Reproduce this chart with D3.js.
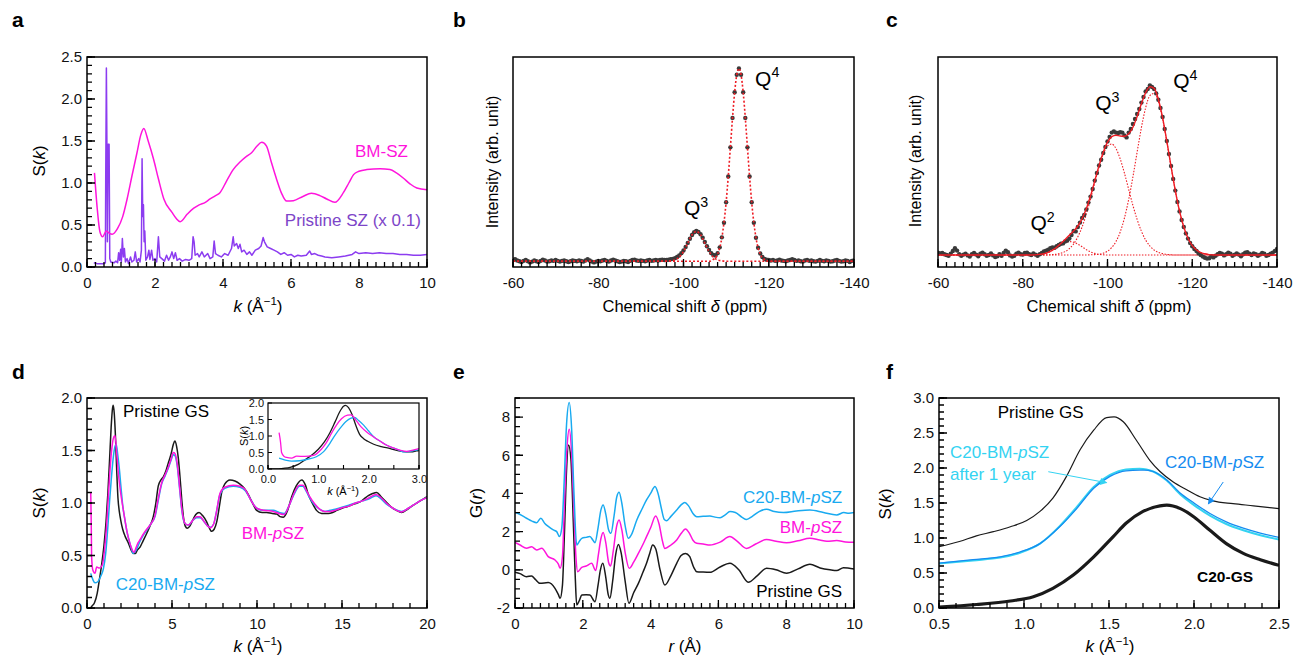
<!DOCTYPE html>
<html>
<head>
<meta charset="utf-8">
<script src="https://cdn.jsdelivr.net/npm/d3@7"></script>
<style>
  body { margin: 0; background: #fff; }
  svg { font-family: Arial, "Liberation Sans", sans-serif; }
</style>
</head>
<body>
<script>
var svg = d3.select("body").append("svg").attr("width", 1293).attr("height", 658);
svg.append("rect").attr("width", 1293).attr("height", 658).attr("fill", "#fff");

// ---------------- data ----------------
// a: S(k) of BM-SZ and pristine SZ (scaled x0.1)
var bmSZ = [[0.22,1.12],[0.3,0.7],[0.38,0.42],[0.46,0.36],[0.57,0.43],[0.66,0.40],[0.74,0.39],[0.9,0.46],[1.05,0.6],[1.18,0.81],[1.32,1.08],[1.47,1.36],[1.58,1.57],[1.67,1.65],[1.8,1.5],[1.96,1.28],[2.1,1.05],[2.26,0.81],[2.5,0.65],[2.62,0.58],[2.74,0.54],[2.95,0.63],[3.14,0.70],[3.3,0.74],[3.48,0.77],[3.62,0.81],[3.78,0.85],[3.91,0.885],[4.1,1.02],[4.3,1.16],[4.5,1.25],[4.7,1.32],[4.84,1.36],[5.0,1.44],[5.14,1.485],[5.28,1.44],[5.42,1.25],[5.58,1.04],[5.72,0.88],[5.87,0.785],[6.07,0.79],[6.35,0.84],[6.6,0.877],[6.85,0.85],[7.05,0.81],[7.29,0.77],[7.54,0.885],[7.7,1.0],[7.84,1.10],[8.0,1.14],[8.23,1.16],[8.62,1.17],[8.91,1.16],[9.1,1.12],[9.3,1.06],[9.5,0.99],[9.7,0.94],[10,0.92]];
var pristineSZ = [[0.2,0.05],[0.3,0.04],[0.4,0.04],[0.5,0.04],[0.54,0.05],[0.55,1.0],[0.57,2.37],[0.59,1.2],[0.6,0.3],[0.62,1.46],[0.65,1.46],[0.67,0.1],[0.7,0.06],[0.8,0.05],[0.85,0.07],[0.9,0.05],[0.93,0.17],[0.96,0.08],[0.99,0.21],[1.01,0.06],[1.04,0.34],[1.07,0.12],[1.1,0.22],[1.13,0.06],[1.18,0.1],[1.22,0.04],[1.28,0.12],[1.32,0.06],[1.38,0.08],[1.42,0.18],[1.46,0.06],[1.52,0.1],[1.56,0.06],[1.6,0.2],[1.62,1.29],[1.64,0.6],[1.66,0.74],[1.68,0.3],[1.7,0.43],[1.73,0.08],[1.78,0.12],[1.82,0.2],[1.85,0.09],[1.9,0.2],[1.94,0.08],[2.0,0.1],[2.05,0.06],[2.1,0.36],[2.14,0.12],[2.2,0.1],[2.28,0.07],[2.34,0.14],[2.4,0.08],[2.45,0.12],[2.5,0.18],[2.55,0.1],[2.6,0.17],[2.65,0.08],[2.72,0.1],[2.8,0.07],[2.9,0.09],[3.0,0.08],[3.08,0.1],[3.12,0.36],[3.15,0.3],[3.18,0.14],[3.25,0.16],[3.3,0.12],[3.38,0.18],[3.45,0.12],[3.55,0.16],[3.62,0.1],[3.7,0.12],[3.74,0.31],[3.78,0.16],[3.85,0.14],[3.95,0.12],[4.05,0.16],[4.15,0.14],[4.25,0.22],[4.3,0.36],[4.33,0.25],[4.4,0.28],[4.45,0.22],[4.5,0.27],[4.55,0.18],[4.62,0.2],[4.7,0.15],[4.78,0.18],[4.85,0.14],[4.95,0.2],[5.05,0.22],[5.12,0.25],[5.18,0.35],[5.22,0.3],[5.3,0.24],[5.4,0.22],[5.5,0.2],[5.6,0.18],[5.7,0.15],[5.8,0.17],[5.9,0.14],[6.0,0.15],[6.1,0.12],[6.2,0.14],[6.3,0.13],[6.45,0.14],[6.55,0.19],[6.6,0.15],[6.7,0.16],[6.8,0.14],[6.9,0.13],[7.0,0.12],[7.2,0.11],[7.4,0.12],[7.6,0.13],[7.8,0.15],[7.9,0.18],[8.0,0.16],[8.2,0.17],[8.4,0.16],[8.6,0.17],[8.8,0.16],[9.0,0.16],[9.2,0.15],[9.4,0.15],[9.6,0.14],[9.8,0.14],[10,0.15]];

// b, c: 29Si NMR, intensities on a 0.5 ppm grid from -60 to -140 ppm
var shiftGrid = d3.range(161).map(function (i) { return -60 - 0.5 * i; });
var nmrB = [
  0.006,0.010,0.004,0.000,-0.004,0.002,0.006,0.000,-0.006,-0.002,0.004,0.000,-0.004,0.002,0.008,0.004,-0.002,0.000,0.004,0.002,
  0.006,0.002,-0.002,0.002,0.004,0.000,-0.004,0.000,0.004,0.002,0.000,0.004,0.002,-0.002,0.004,0.010,0.004,-0.002,-0.006,-0.002,
  0.002,0.000,0.004,0.006,0.002,-0.002,0.004,0.008,0.004,0.000,-0.004,-0.002,0.002,0.000,-0.004,0.002,0.006,0.008,0.004,0.002,
  0.004,0.002,0.000,0.004,0.006,0.002,0.004,0.006,0.004,0.006,0.008,0.006,0.006,0.008,0.010,0.012,0.016,0.022,0.030,0.042,
  0.056,0.074,0.095,0.117,0.136,0.150,0.157,0.152,0.140,0.122,0.100,0.078,0.058,0.042,0.032,0.030,0.042,0.072,0.124,0.200,
  0.306,0.440,0.591,0.744,0.877,0.968,1.000,0.968,0.877,0.744,0.591,0.440,0.306,0.200,0.122,0.070,0.040,0.022,0.012,0.008,
  0.006,0.004,0.006,0.002,0.004,0.008,0.004,0.002,0.000,0.004,0.006,0.010,0.006,0.002,0.004,0.000,-0.002,0.004,0.006,0.002,
  0.004,0.000,-0.002,0.002,0.006,0.002,0.000,0.004,0.002,-0.002,0.000,0.004,0.006,0.002,-0.002,0.000,0.004,0.002,-0.004,0.002,
  0.004];
var fitQ3B = [[-60,0],[-96,0],[-97,0.002],[-98,0.007],[-99,0.021],[-100,0.051],[-101,0.094],[-102,0.137],[-103,0.155],[-104,0.137],[-105,0.094],[-106,0.051],[-107,0.021],[-108,0.007],[-109,0.002],[-110,0],[-140,0]];
var fitQ4B = [[-60,0],[-106,0],[-107,0.009],[-108,0.037],[-109,0.122],[-110,0.306],[-110.5,0.44],[-111,0.591],[-111.5,0.744],[-112,0.877],[-112.5,0.968],[-113,1],[-113.5,0.968],[-114,0.877],[-114.5,0.744],[-115,0.591],[-115.5,0.44],[-116,0.306],[-117,0.122],[-118,0.037],[-119,0.009],[-120,0],[-140,0]];

var nmrC = [
  0.012,0.008,0.010,0.004,0.000,-0.004,0.006,0.020,0.034,0.022,0.004,-0.004,0.002,0.006,-0.002,-0.008,0.004,0.010,0.002,-0.006,
  0.006,0.012,0.004,-0.004,0.000,0.008,-0.002,-0.010,-0.006,0.004,-0.004,0.010,0.022,0.014,-0.002,-0.008,-0.004,0.006,0.012,0.004,
  0.002,0.010,0.012,0.004,0.000,0.008,0.002,-0.004,0.004,0.010,0.018,0.022,0.026,0.034,0.038,0.036,0.044,0.050,0.056,0.058,
  0.068,0.072,0.082,0.100,0.120,0.118,0.140,0.162,0.185,0.200,0.228,0.262,0.292,0.330,0.372,0.410,0.448,0.476,0.510,0.540,
  0.568,0.590,0.612,0.618,0.612,0.610,0.614,0.612,0.598,0.588,0.612,0.630,0.655,0.680,0.705,0.730,0.762,0.790,0.818,0.830,
  0.848,0.840,0.830,0.808,0.776,0.735,0.690,0.630,0.570,0.505,0.445,0.380,0.322,0.265,0.218,0.175,0.140,0.108,0.082,0.060,
  0.044,0.030,0.020,0.008,0.000,-0.008,-0.014,-0.018,-0.016,-0.006,-0.012,-0.004,0.004,0.010,0.006,-0.002,0.004,0.012,0.006,-0.004,
  0.002,0.008,0.002,-0.006,0.004,0.012,0.014,0.006,0.000,0.008,0.004,-0.004,0.002,0.010,0.006,-0.004,0.000,0.006,0.012,0.020,
  0.030];
var fitQ2C = [[-60,0],[-82,0],[-84,0.0025],[-86,0.012],[-87,0.022],[-88,0.035],[-89,0.049],[-90,0.061],[-91,0.067],[-92,0.064],[-93,0.054],[-94,0.041],[-95,0.027],[-96,0.0155],[-97,0.008],[-98,0.0035],[-100,0],[-140,0]];
var fitQ3C = [[-60,0],[-85,0],[-86,0.001],[-87,0.002],[-88,0.004],[-89,0.009],[-90,0.017],[-91,0.032],[-92,0.055],[-93,0.091],[-94,0.140],[-95,0.204],[-96,0.28],[-97,0.361],[-98,0.44],[-99,0.504],[-100,0.545],[-101,0.555],[-102,0.532],[-103,0.48],[-104,0.409],[-105,0.328],[-106,0.248],[-107,0.177],[-108,0.119],[-109,0.075],[-110,0.045],[-111,0.025],[-112,0.013],[-113,0.007],[-114,0.003],[-115,0.001],[-116,0],[-140,0]];
var fitQ4C = [[-60,0],[-95,0],[-96,0.001],[-97,0.002],[-98,0.004],[-99,0.009],[-100,0.019],[-101,0.037],[-102,0.067],[-103,0.115],[-104,0.185],[-105,0.278],[-106,0.391],[-107,0.516],[-108,0.637],[-109,0.736],[-110,0.797],[-111,0.808],[-112,0.766],[-113,0.681],[-114,0.566],[-115,0.441],[-116,0.322],[-117,0.219],[-118,0.14],[-119,0.084],[-120,0.047],[-121,0.025],[-122,0.012],[-123,0.006],[-124,0.002],[-125,0],[-140,0]];
var fitSumC = [[-60,0],[-82,0],[-84,0.003],[-85,0.006],[-86,0.013],[-87,0.024],[-88,0.039],[-89,0.058],[-90,0.078],[-91,0.099],[-92,0.12],[-93,0.145],[-94,0.181],[-95,0.231],[-96,0.296],[-97,0.371],[-98,0.447],[-99,0.514],[-100,0.564],[-101,0.592],[-102,0.599],[-103,0.595],[-104,0.594],[-105,0.606],[-106,0.639],[-107,0.693],[-108,0.756],[-109,0.811],[-110,0.842],[-111,0.833],[-112,0.779],[-113,0.687],[-114,0.569],[-115,0.442],[-116,0.322],[-117,0.219],[-118,0.14],[-119,0.084],[-120,0.047],[-121,0.025],[-122,0.012],[-123,0.006],[-124,0.002],[-125,0],[-140,0]];

// d: S(k)
var gsSk = [[0.0,0.0],[0.17,0.0],[0.3,0.02],[0.44,0.05],[0.6,0.14],[0.7,0.24],[0.85,0.4],[1.0,0.6],[1.12,0.82],[1.23,1.1],[1.33,1.42],[1.42,1.72],[1.5,1.9],[1.54,1.93],[1.6,1.86],[1.67,1.65],[1.75,1.3],[1.82,1.05],[1.9,0.92],[1.98,0.84],[2.1,0.75],[2.25,0.68],[2.43,0.62],[2.6,0.55],[2.75,0.52],[2.85,0.52],[2.95,0.55],[3.12,0.58],[3.3,0.64],[3.51,0.71],[3.7,0.78],[3.9,0.87],[4.05,1.0],[4.19,1.16],[4.35,1.22],[4.49,1.25],[4.65,1.31],[4.78,1.38],[4.95,1.47],[5.08,1.56],[5.17,1.59],[5.27,1.54],[5.37,1.43],[5.47,1.25],[5.57,1.04],[5.67,0.87],[5.78,0.78],[5.9,0.76],[6.05,0.78],[6.2,0.83],[6.4,0.89],[6.59,0.91],[6.8,0.88],[7.04,0.82],[7.2,0.76],[7.33,0.73],[7.48,0.75],[7.63,0.82],[7.78,0.96],[7.92,1.1],[8.1,1.18],[8.41,1.22],[8.7,1.21],[9.0,1.18],[9.25,1.14],[9.49,1.08],[9.7,1.01],[9.98,0.93],[10.3,0.91],[10.57,0.91],[10.9,0.9],[11.16,0.895],[11.35,0.87],[11.55,0.865],[11.8,0.93],[12.04,1.06],[12.3,1.16],[12.63,1.22],[12.85,1.17],[13.0,1.09],[13.25,1.0],[13.5,0.93],[13.8,0.9],[14.2,0.9],[14.45,0.91],[14.7,0.93],[15.0,0.95],[15.3,0.965],[15.7,0.99],[16.06,1.01],[16.3,1.04],[16.55,1.07],[16.8,1.09],[17.04,1.10],[17.3,1.06],[17.6,1.01],[17.9,0.96],[18.2,0.93],[18.5,0.91],[18.85,0.94],[19.2,0.98],[19.6,1.02],[20.0,1.06]];
var bmSk = [[0.22,1.1],[0.25,0.8],[0.27,0.5],[0.32,0.38],[0.37,0.35],[0.47,0.33],[0.57,0.39],[0.73,0.38],[0.9,0.41],[1.06,0.6],[1.16,0.8],[1.26,1.08],[1.36,1.33],[1.46,1.52],[1.58,1.63],[1.65,1.64],[1.76,1.45],[1.86,1.26],[1.96,1.12],[2.1,0.97],[2.23,0.84],[2.36,0.72],[2.5,0.63],[2.62,0.57],[2.76,0.53],[2.9,0.58],[3.0,0.62],[3.12,0.65],[3.3,0.7],[3.51,0.75],[3.75,0.8],[4.0,0.88],[4.2,1.05],[4.39,1.19],[4.6,1.27],[4.78,1.34],[4.95,1.42],[5.08,1.48],[5.18,1.47],[5.3,1.38],[5.45,1.15],[5.57,0.95],[5.67,0.85],[5.8,0.8],[5.96,0.79],[6.2,0.83],[6.45,0.87],[6.65,0.87],[6.9,0.82],[7.1,0.78],[7.27,0.765],[7.45,0.8],[7.62,0.92],[7.82,1.09],[8.1,1.15],[8.6,1.17],[9.0,1.16],[9.3,1.13],[9.6,1.04],[9.98,0.95],[10.4,0.93],[10.96,0.92],[11.3,0.9],[11.6,0.89],[11.9,0.98],[12.2,1.1],[12.5,1.17],[12.7,1.17],[12.9,1.12],[13.1,1.06],[13.4,0.99],[13.7,0.94],[14.0,0.92],[14.3,0.92],[14.6,0.93],[15.0,0.955],[15.4,0.97],[15.8,1.0],[16.2,1.02],[16.6,1.05],[17.0,1.08],[17.3,1.05],[17.6,1.0],[18.0,0.95],[18.5,0.915],[18.9,0.95],[19.3,0.99],[19.7,1.03],[20.0,1.05]];
var c20Sk = [[0.22,0.33],[0.3,0.29],[0.37,0.26],[0.47,0.24],[0.63,0.25],[0.8,0.3],[0.96,0.37],[1.1,0.52],[1.23,0.78],[1.33,1.02],[1.43,1.23],[1.55,1.44],[1.65,1.54],[1.72,1.56],[1.8,1.47],[1.9,1.33],[2.0,1.15],[2.1,0.98],[2.23,0.84],[2.36,0.72],[2.5,0.63],[2.62,0.56],[2.7,0.52],[2.8,0.53],[2.95,0.57],[3.1,0.63],[3.3,0.69],[3.51,0.74],[3.75,0.8],[4.0,0.87],[4.2,1.03],[4.39,1.18],[4.6,1.26],[4.78,1.33],[4.95,1.41],[5.08,1.46],[5.18,1.45],[5.3,1.36],[5.45,1.13],[5.57,0.94],[5.67,0.84],[5.8,0.8],[5.96,0.79],[6.2,0.83],[6.45,0.86],[6.65,0.86],[6.9,0.82],[7.1,0.78],[7.27,0.77],[7.45,0.8],[7.62,0.92],[7.82,1.08],[8.1,1.14],[8.6,1.16],[9.0,1.15],[9.3,1.12],[9.6,1.04],[9.98,0.95],[10.4,0.93],[10.96,0.93],[11.3,0.91],[11.6,0.9],[11.9,0.98],[12.2,1.09],[12.5,1.16],[12.7,1.16],[12.9,1.11],[13.1,1.05],[13.4,0.98],[13.7,0.94],[14.0,0.92],[14.3,0.93],[14.6,0.94],[15.0,0.96],[15.4,0.98],[15.8,1.0],[16.2,1.02],[16.6,1.04],[17.0,1.07],[17.3,1.04],[17.6,0.99],[18.0,0.95],[18.5,0.92],[18.9,0.95],[19.3,0.99],[19.7,1.03],[20.0,1.05]];

// e: G(r)
var c20Gr = [[0,3.0],[0.15,2.9],[0.34,2.7],[0.5,2.55],[0.64,2.47],[0.76,2.7],[0.88,2.43],[1.0,2.25],[1.13,2.09],[1.23,2.0],[1.31,1.74],[1.38,2.2],[1.45,4.6],[1.52,7.6],[1.6,8.76],[1.67,7.4],[1.74,4.0],[1.82,1.3],[1.9,1.5],[1.97,1.65],[2.1,1.7],[2.21,1.74],[2.3,1.55],[2.36,1.42],[2.45,2.2],[2.53,3.1],[2.6,3.4],[2.68,2.9],[2.76,2.1],[2.83,1.91],[2.92,2.8],[3.0,3.8],[3.07,4.06],[3.15,3.5],[3.25,2.3],[3.34,1.65],[3.45,1.9],[3.59,2.6],[3.75,3.2],[3.88,3.66],[4.0,4.0],[4.13,4.36],[4.22,4.0],[4.32,3.2],[4.4,2.65],[4.47,2.57],[4.6,2.8],[4.77,3.13],[4.9,3.4],[5.01,3.53],[5.12,3.35],[5.25,2.95],[5.36,2.78],[5.55,2.8],[5.75,2.82],[5.9,2.76],[6.05,2.73],[6.2,2.88],[6.34,3.05],[6.5,3.0],[6.7,2.75],[6.83,2.64],[7.0,2.8],[7.2,3.05],[7.42,3.17],[7.65,3.05],[7.92,3.0],[8.3,3.08],[8.7,3.13],[9.1,3.0],[9.49,2.87],[9.7,3.0],[9.85,2.96],[10,3.0]];
var bmGr = [[0,1.44],[0.15,1.3],[0.34,1.13],[0.49,1.21],[0.64,1.04],[0.79,1.13],[0.98,0.69],[1.18,0.51],[1.28,0.3],[1.33,0.08],[1.4,0.7],[1.46,3.5],[1.53,6.3],[1.6,7.36],[1.67,6.1],[1.74,3.0],[1.8,0.6],[1.85,-0.1],[1.97,0.13],[2.1,0.2],[2.26,0.34],[2.38,-0.04],[2.46,0.8],[2.53,1.6],[2.6,1.96],[2.68,1.4],[2.76,0.4],[2.82,0.2],[2.9,1.0],[3.0,2.3],[3.07,2.61],[3.15,2.1],[3.25,0.9],[3.37,0.08],[3.5,0.4],[3.64,0.86],[3.78,1.35],[3.88,1.74],[4.0,2.2],[4.15,2.82],[4.25,2.4],[4.35,1.5],[4.42,1.12],[4.6,1.3],[4.77,1.56],[4.9,1.9],[5.03,2.14],[5.15,1.9],[5.25,1.55],[5.36,1.39],[5.55,1.35],[5.75,1.3],[6.05,1.45],[6.34,1.74],[6.55,1.5],[6.83,1.12],[7.1,1.35],[7.42,1.59],[7.7,1.5],[8.01,1.42],[8.35,1.52],[8.7,1.65],[8.99,1.56],[9.2,1.5],[9.49,1.53],[9.75,1.46],[10,1.44]];
var gsGr = [[0,-0.13],[0.15,-0.2],[0.34,-0.36],[0.49,-0.32],[0.6,-0.5],[0.74,-0.71],[0.98,-0.67],[1.18,-0.97],[1.28,-1.3],[1.33,-1.49],[1.4,-0.8],[1.46,2.0],[1.52,5.2],[1.58,6.54],[1.65,5.8],[1.72,2.5],[1.78,-0.5],[1.82,-1.84],[1.9,-1.6],[1.97,-1.32],[2.1,-1.3],[2.21,-1.32],[2.36,-1.67],[2.45,-0.8],[2.52,0.0],[2.59,0.34],[2.67,-0.3],[2.75,-1.3],[2.8,-1.49],[2.88,-0.6],[2.97,0.8],[3.05,1.33],[3.13,0.9],[3.25,-0.6],[3.36,-1.75],[3.5,-1.2],[3.64,-0.71],[3.78,-0.1],[3.88,0.34],[3.98,0.9],[4.06,1.3],[4.15,1.1],[4.28,0.0],[4.42,-0.8],[4.6,-0.3],[4.77,0.34],[4.9,0.75],[5.03,0.86],[5.15,0.7],[5.28,0.1],[5.36,-0.1],[5.55,-0.12],[5.75,-0.13],[6.05,0.15],[6.34,0.34],[6.6,0.0],[6.88,-0.65],[7.15,-0.3],[7.42,0.08],[7.7,0.0],[8.01,-0.18],[8.35,0.05],[8.7,0.29],[9.0,0.1],[9.29,0.0],[9.49,-0.04],[9.69,0.11],[10,0.04]];

// f: first sharp diffraction peak region
var gsF = [[0.5,0.876],[0.62,0.95],[0.72,1.03],[0.82,1.09],[0.92,1.16],[1.016,1.25],[1.094,1.38],[1.17,1.57],[1.25,1.88],[1.33,2.26],[1.41,2.54],[1.486,2.72],[1.53,2.73],[1.584,2.66],[1.66,2.4],[1.74,2.11],[1.8,1.95],[1.878,1.80],[1.957,1.69],[2.035,1.59],[2.11,1.53],[2.23,1.49],[2.35,1.46],[2.5,1.42]];
var c20F = [[0.5,0.64],[0.7,0.69],[0.86,0.73],[0.976,0.80],[1.094,0.92],[1.21,1.16],[1.31,1.42],[1.41,1.71],[1.506,1.88],[1.6,1.96],[1.68,1.97],[1.71,1.97],[1.76,1.95],[1.84,1.83],[1.92,1.64],[2.0,1.50],[2.094,1.35],[2.19,1.23],[2.29,1.14],[2.39,1.07],[2.5,1.01]];
var c20YearF = [[0.5,0.635],[0.7,0.68],[0.86,0.72],[0.976,0.79],[1.094,0.92],[1.21,1.17],[1.31,1.44],[1.41,1.73],[1.506,1.9],[1.6,1.98],[1.68,1.99],[1.72,1.98],[1.76,1.95],[1.84,1.82],[1.92,1.62],[2.0,1.47],[2.094,1.32],[2.19,1.2],[2.29,1.11],[2.39,1.04],[2.5,0.98]];
var c20gsF = [[0.5,0.014],[0.72,0.05],[0.92,0.10],[1.055,0.16],[1.17,0.28],[1.29,0.47],[1.41,0.73],[1.525,1.02],[1.6,1.21],[1.7,1.38],[1.8,1.46],[1.84,1.47],[1.92,1.42],[2.0,1.30],[2.094,1.11],[2.19,0.92],[2.29,0.78],[2.39,0.69],[2.5,0.61]];

// tick labels
var aXTicks = [0, 2, 4, 6, 8, 10], aYTicks = [0, 0.5, 1, 1.5, 2, 2.5];
var nmrXTicks = [-60, -80, -100, -120, -140];
var dXTicks = [0, 5, 10, 15, 20], dYTicks = [0, 0.5, 1, 1.5, 2];
var insetXTicks = [0, 1, 2, 3], insetYTicks = [0, 0.5, 1, 1.5, 2];
var eXTicks = [0, 2, 4, 6, 8, 10], eYTicks = [-2, 0, 2, 4, 6, 8];
var fXTicks = [0.5, 1, 1.5, 2, 2.5], fYTicks = [0, 0.5, 1, 1.5, 2, 2.5, 3];

// colours
var MAGENTA = "#ff14dc", PURPLE = "#8c3cf0", PURPLE_TXT = "#7d45c8", SKY = "#19aaf0",
    BLUE = "#158cf0", CYAN = "#34d3f2", RED = "#ee1c24", DOT = "#3a3a3a";

// ---------------- helpers ----------------
var clipCount = 0;
function makePanel(box, xDom, yDom) {
  var g = svg.append("g").attr("transform", "translate(" + box[0] + "," + box[1] + ")");
  var w = box[2] - box[0], h = box[3] - box[1];
  var id = "clip" + (clipCount++);
  g.append("clipPath").attr("id", id).append("rect").attr("width", w).attr("height", h);
  g.append("rect").attr("width", w).attr("height", h).attr("fill", "#fff");
  return {
    g: g, w: w, h: h,
    x: d3.scaleLinear().domain(xDom).range([0, w]),
    y: d3.scaleLinear().domain(yDom).range([h, 0]),
    plot: g.append("g").attr("clip-path", "url(#" + id + ")")
  };
}

function cleanAxis(sel, fs) {
  sel.select(".domain").remove();
  sel.selectAll(".tick line").remove();
  sel.attr("font-family", null).attr("font-size", fs);
  sel.selectAll("text").attr("fill", "#111");
}

// inward tick marks: one path per tick set, positioned with the panel's scales
function tickMarks(p, values, len, vertical, width) {
  var d = values.map(function (v) {
    return vertical
      ? "M0," + p.y(v).toFixed(2) + "h" + len
      : "M" + p.x(v).toFixed(2) + "," + p.h + "v" + (-len);
  }).join("");
  p.g.append("path").attr("d", d).attr("fill", "none")
    .attr("stroke", "#000").attr("stroke-width", width || 1.3);
}

function drawAxes(p, o) {
  var fs = o.fs || 15, minor = o.minor || 5, major = o.major || 8;
  if (o.xMinor) tickMarks(p, o.xMinor, minor, false, o.tw);
  tickMarks(p, o.xMajor, major, false, o.tw);
  p.g.append("g").attr("transform", "translate(0," + p.h + ")")
    .call(d3.axisBottom(p.x).tickValues(o.xMajor).tickSize(0).tickPadding(o.xPad || 10).tickFormat(o.xFmt))
    .call(cleanAxis, fs);
  if (o.yMajor) {
    if (o.yMinor) tickMarks(p, o.yMinor, minor, true, o.tw);
    tickMarks(p, o.yMajor, major, true, o.tw);
    p.g.append("g")
      .call(d3.axisLeft(p.y).tickValues(o.yMajor).tickSize(0).tickPadding(o.yPad || 5).tickFormat(o.yFmt))
      .call(cleanAxis, fs);
  }
  p.g.append("rect").attr("width", p.w).attr("height", p.h)
    .attr("fill", "none").attr("stroke", "#000").attr("stroke-width", o.frame || 1.5);
}

// text made of parts: {t, i (italic), sup}
function richText(parent, x, y, parts, size, color, anchor, weight) {
  var t = parent.append("text").attr("x", x).attr("y", y).attr("font-size", size)
    .attr("fill", color || "#000").attr("text-anchor", anchor || "start");
  if (weight) t.attr("font-weight", weight);
  var shift = 0;
  parts.forEach(function (pt) {
    var s = t.append("tspan").text(pt.t);
    if (pt.i) s.attr("font-style", "italic");
    var want = pt.sup ? -size * 0.4 : 0;
    if (want !== shift) { s.attr("dy", want - shift); shift = want; }
    if (pt.sup) s.attr("font-size", size * 0.68);
  });
  return t;
}
function yTitle(x, y, parts, size) {
  var g = svg.append("g").attr("transform", "translate(" + x + "," + y + ") rotate(-90)");
  richText(g, 0, 0, parts, size || 17, "#000", "middle");
}
function drawCurve(p, data, color, width, curve) {
  return p.plot.append("path").datum(data)
    .attr("fill", "none").attr("stroke", color).attr("stroke-width", width)
    .attr("stroke-linejoin", "round")
    .attr("d", d3.line().x(function (d) { return p.x(d[0]); }).y(function (d) { return p.y(d[1]); })
      .curve(curve || d3.curveMonotoneX));
}
function label(p, pos, parts, size, color, anchor, weight) {
  return richText(p.g, p.x(pos[0]), p.y(pos[1]), parts, size, color, anchor, weight);
}
function panelLetter(x, y, s) {
  svg.append("text").attr("x", x).attr("y", y).attr("font-size", 21).attr("font-weight", "bold").text(s);
}

var fmt1 = d3.format(".1f");
var fmtInt = function (d) { return String(d); };
var kTitle = [{t: "k", i: true}, {t: " (Å"}, {t: "−1", sup: true}, {t: ")"}];
var skTitle = [{t: "S("}, {t: "k", i: true}, {t: ")"}];

// ---------------- panel a ----------------
var pa = makePanel([87, 57, 427, 267], [0, 10], [0, 2.5]);
drawCurve(pa, pristineSZ, PURPLE, 1.5, d3.curveLinear);
drawCurve(pa, bmSZ, MAGENTA, 1.5);
drawAxes(pa, {xMajor: aXTicks, xMinor: d3.range(0, 10.01, 0.25), xFmt: fmtInt,
  yMajor: aYTicks, yMinor: d3.range(0, 2.51, 0.1), yFmt: fmt1});
label(pa, [8.66, 1.315], [{t: "BM-SZ"}], 17, MAGENTA, "middle");
label(pa, [9.82, 0.486], [{t: "Pristine SZ (x 0.1)"}], 17, PURPLE_TXT, "end");
panelLetter(12, 27, "a");
yTitle(45, 161, skTitle);
richText(svg, 258, 312, kTitle, 17, "#000", "middle");

// ---------------- panel b ----------------
var pb = makePanel([513, 57, 854, 267], [-60, -140], [-0.03, 1.06]);
pb.plot.append("g").selectAll("circle").data(nmrB).enter().append("circle")
  .attr("cx", function (d, i) { return pb.x(shiftGrid[i]); })
  .attr("cy", function (d) { return pb.y(d); })
  .attr("r", 2.2).attr("fill", DOT);
[fitQ3B, fitQ4B].forEach(function (f) {
  drawCurve(pb, f, RED, 1.6).attr("stroke-dasharray", "2,2");
});
drawAxes(pb, {xMajor: nmrXTicks, xMinor: d3.range(-60, -140.1, -2), xFmt: fmtInt});
label(pb, [-116.8, 0.911], [{t: "Q"}, {t: "4", sup: true}], 21);
label(pb, [-100.1, 0.24], [{t: "Q"}, {t: "3", sup: true}], 21);
panelLetter(453, 27, "b");
yTitle(498, 162, [{t: "Intensity (arb. unit)"}], 16);
richText(svg, 685, 312, [{t: "Chemical shift "}, {t: "δ", i: true}, {t: " (ppm)"}], 16.5, "#000", "middle");

// ---------------- panel c ----------------
var pc = makePanel([938, 57, 1277, 267], [-60, -140], [-0.06, 0.99]);
[fitQ2C, fitQ3C, fitQ4C].forEach(function (f) {
  drawCurve(pc, f, RED, 1.1).attr("stroke-dasharray", "1.5,1.5");
});
pc.plot.append("g").selectAll("circle").data(nmrC).enter().append("circle")
  .attr("cx", function (d, i) { return pc.x(shiftGrid[i]); })
  .attr("cy", function (d) { return pc.y(d); })
  .attr("r", 2.2).attr("fill", DOT);
drawCurve(pc, fitSumC, RED, 1.4);
drawAxes(pc, {xMajor: nmrXTicks, xMinor: d3.range(-60, -140.1, -2), xFmt: fmtInt});
label(pc, [-115.5, 0.835], [{t: "Q"}, {t: "4", sup: true}], 21);
label(pc, [-97.1, 0.725], [{t: "Q"}, {t: "3", sup: true}], 21);
label(pc, [-81.8, 0.125], [{t: "Q"}, {t: "2", sup: true}], 21);
panelLetter(886, 27, "c");
yTitle(921, 161, [{t: "Intensity (arb. unit)"}], 16);
richText(svg, 1109, 312, [{t: "Chemical shift "}, {t: "δ", i: true}, {t: " (ppm)"}], 16.5, "#000", "middle");

// ---------------- panel d ----------------
var pd = makePanel([87, 398, 427, 608], [0, 20], [0, 2]);
drawCurve(pd, gsSk, "#1a1a1a", 1.5);
drawCurve(pd, c20Sk, SKY, 1.5);
drawCurve(pd, bmSk, MAGENTA, 1.5);
drawAxes(pd, {xMajor: dXTicks, xMinor: d3.range(0, 20.01, 1), xFmt: fmtInt,
  yMajor: dYTicks, yMinor: d3.range(0, 2.01, 0.1), yFmt: fmt1});
label(pd, [2.12, 1.82], [{t: "Pristine GS"}], 17, "#000");
label(pd, [9.1, 0.657], [{t: "BM-"}, {t: "p", i: true}, {t: "SZ"}], 17, MAGENTA);
label(pd, [1.69, 0.171], [{t: "C20-BM-"}, {t: "p", i: true}, {t: "SZ"}], 17, SKY);

// inset
var pi = makePanel([268, 403, 419, 469], [0, 3], [0, 2]);
drawCurve(pi, gsSk, "#1a1a1a", 1.3);
drawCurve(pi, c20Sk, SKY, 1.3);
drawCurve(pi, bmSk, MAGENTA, 1.3);
drawAxes(pi, {xMajor: insetXTicks, xMinor: d3.range(0, 3.01, 0.5), xFmt: fmt1, xPad: 6,
  yMajor: insetYTicks, yFmt: fmt1, yPad: 4, major: 4, minor: 4, fs: 11, frame: 1.2, tw: 1.1});
richText(svg, 343, 495, kTitle, 11, "#000", "middle");
var insetTitle = svg.append("g").attr("transform", "translate(248,436) rotate(-90)");
richText(insetTitle, 0, 0, skTitle, 11, "#000", "middle");

panelLetter(12, 379, "d");
yTitle(45, 503, skTitle);
richText(svg, 258, 652, kTitle, 17, "#000", "middle");

// ---------------- panel e ----------------
var pe = makePanel([515, 398, 854, 608], [0, 10], [-2, 9]);
drawCurve(pe, gsGr, "#1a1a1a", 1.5);
drawCurve(pe, bmGr, MAGENTA, 1.5);
drawCurve(pe, c20Gr, SKY, 1.5);
drawAxes(pe, {xMajor: eXTicks, xMinor: d3.range(0, 10.01, 0.25), xFmt: fmtInt,
  yMajor: eYTicks, yMinor: d3.range(-2, 9.01, 0.5), yFmt: fmtInt});
label(pe, [9.65, 3.5], [{t: "C20-BM-"}, {t: "p", i: true}, {t: "SZ"}], 17, SKY, "end");
label(pe, [9.65, 1.94], [{t: "BM-"}, {t: "p", i: true}, {t: "SZ"}], 17, MAGENTA, "end");
label(pe, [9.65, -1.41], [{t: "Pristine GS"}], 17, "#000", "end");
panelLetter(453, 379, "e");
yTitle(482, 503, [{t: "G("}, {t: "r", i: true}, {t: ")"}]);
richText(svg, 685, 652, [{t: "r", i: true}, {t: " (Å)"}], 17, "#000", "middle");

// ---------------- panel f ----------------
var pf = makePanel([939, 398, 1279, 608], [0.5, 2.5], [0, 3]);
drawCurve(pf, gsF, "#1a1a1a", 1.2);
drawCurve(pf, c20YearF, CYAN, 2);
drawCurve(pf, c20F, BLUE, 1.3);
drawCurve(pf, c20gsF, "#1a1a1a", 3.2);
drawAxes(pf, {xMajor: fXTicks, xMinor: d3.range(0.5, 2.51, 0.1), xFmt: fmt1,
  yMajor: fYTicks, yMinor: d3.range(0, 3.01, 0.1), yFmt: fmt1});
label(pf, [0.845, 2.714], [{t: "Pristine GS"}], 17, "#000");
label(pf, [0.565, 2.139], [{t: "C20-BM-"}, {t: "p", i: true}, {t: "SZ"}], 17, CYAN);
label(pf, [0.565, 1.829], [{t: "after 1 year"}], 17, CYAN);
label(pf, [1.829, 1.996], [{t: "C20-BM-"}, {t: "p", i: true}, {t: "SZ"}], 17, BLUE);
label(pf, [2.018, 0.376], [{t: "C20-GS"}], 15.5, "#000", "start", "bold");

// annotation arrows (data coordinates)
var arrows = [
  {from: [1.143, 1.947], to: [1.486, 1.79], color: CYAN},
  {from: [2.172, 1.80], to: [2.084, 1.486], color: BLUE}
];
var defs = svg.append("defs");
arrows.forEach(function (a, i) {
  defs.append("marker").attr("id", "arrow" + i).attr("viewBox", "0 0 10 10")
    .attr("refX", 9).attr("refY", 5).attr("markerWidth", 9).attr("markerHeight", 7)
    .attr("markerUnits", "userSpaceOnUse").attr("orient", "auto")
    .append("path").attr("d", "M0,0 L10,5 L0,10 Z").attr("fill", a.color);
  pf.g.append("path")
    .attr("d", "M" + pf.x(a.from[0]) + "," + pf.y(a.from[1]) + "L" + pf.x(a.to[0]) + "," + pf.y(a.to[1]))
    .attr("stroke", a.color).attr("stroke-width", 1).attr("fill", "none")
    .attr("marker-end", "url(#arrow" + i + ")");
});
panelLetter(886, 379, "f");
yTitle(891, 504, skTitle);
richText(svg, 1110, 652, kTitle, 17, "#000", "middle");
</script>
</body>
</html>
